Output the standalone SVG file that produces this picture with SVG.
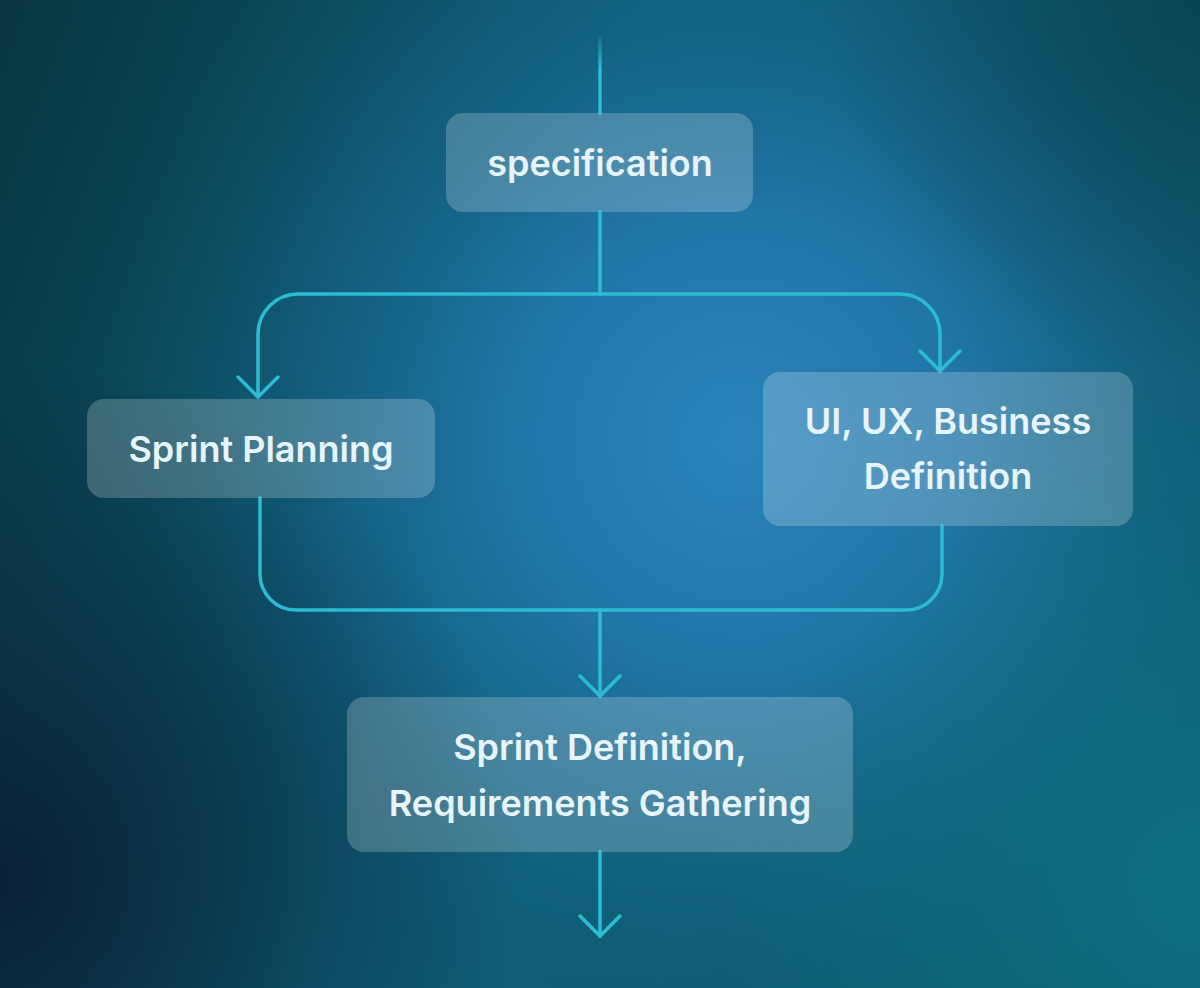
<svg xmlns="http://www.w3.org/2000/svg" width="1200" height="988" viewBox="0 0 1200 988">
<defs>
<linearGradient id="base" x1="0" y1="0" x2="1" y2="0.3">
<stop offset="0" stop-color="#08343f"/>
<stop offset="0.5" stop-color="#0e6078"/>
<stop offset="1" stop-color="#0d5a6a"/>
</linearGradient>
<radialGradient id="glow" cx="740" cy="440" r="660" gradientUnits="userSpaceOnUse">
<stop offset="0" stop-color="#2a84bb"/>
<stop offset="0.35" stop-color="#2378ad" stop-opacity="0.9"/>
<stop offset="0.7" stop-color="#166488" stop-opacity="0.45"/>
<stop offset="1" stop-color="#0d5066" stop-opacity="0"/>
</radialGradient>
<radialGradient id="darkbl" cx="0" cy="880" r="520" gradientUnits="userSpaceOnUse">
<stop offset="0" stop-color="#0a1f35" stop-opacity="0.95"/>
<stop offset="1" stop-color="#0a1f35" stop-opacity="0"/>
</radialGradient>
<radialGradient id="tealbr" cx="1200" cy="880" r="480" gradientUnits="userSpaceOnUse">
<stop offset="0" stop-color="#0f7585" stop-opacity="0.8"/>
<stop offset="1" stop-color="#0f7585" stop-opacity="0"/>
</radialGradient>
<radialGradient id="darktr" cx="1200" cy="0" r="380" gradientUnits="userSpaceOnUse">
<stop offset="0" stop-color="#083a48" stop-opacity="0.7"/>
<stop offset="1" stop-color="#083a48" stop-opacity="0"/>
</radialGradient>
<linearGradient id="topfade" x1="0" y1="38" x2="0" y2="70" gradientUnits="userSpaceOnUse">
<stop offset="0" stop-color="#2bbcd4" stop-opacity="0.2"/>
<stop offset="1" stop-color="#2bbcd4" stop-opacity="1"/>
</linearGradient>
<marker id="chev" viewBox="-24 -24 48 48" markerWidth="48" markerHeight="48" refX="0" refY="0" orient="auto" markerUnits="userSpaceOnUse">
<path d="M-20,-20 L0,0 L-20,20" fill="none" stroke="#2bbcd4" stroke-width="3.5" stroke-linecap="round" stroke-linejoin="round"/>
</marker>
</defs>
<style>
.node rect{fill:#ffffff;fill-opacity:0.21;}
.node text{font-family:Inter,"Noto Sans","Liberation Sans",sans-serif;font-weight:600;font-size:36px;fill:#e8f4fb;text-anchor:middle;dominant-baseline:central;}
.conn path{fill:none;stroke:#2bbcd4;stroke-width:3.5;stroke-linecap:round;}
</style>
<rect width="1200" height="988" fill="url(#base)"/>
<rect width="1200" height="988" fill="url(#glow)"/>
<rect width="1200" height="988" fill="url(#darkbl)"/>
<rect width="1200" height="988" fill="url(#tealbr)"/>
<rect width="1200" height="988" fill="url(#darktr)"/>

<g id="connectors" class="conn">
<path d="M600,38 L600,113" style="stroke:url(#topfade)"/>
<path d="M600,212 L600,294"/>
<path d="M600,294 L298,294 A40,40 0 0 0 258,334 L258,397" marker-end="url(#chev)"/>
<path d="M600,294 L900,294 A40,40 0 0 1 940,334 L940,371" marker-end="url(#chev)"/>
<path d="M260,498 L260,574 A36,36 0 0 0 296,610 L906,610 A36,36 0 0 0 942,574 L942,526"/>
<path d="M600,610 L600,696" marker-end="url(#chev)"/>
<path d="M600,852 L600,936" marker-end="url(#chev)"/>
</g>

<g id="node-specification" class="node">
<rect x="446" y="113" width="307" height="99" rx="17"/>
<text x="600" y="163">specification</text>
</g>
<g id="node-sprint-planning" class="node">
<rect x="87" y="399" width="348" height="99" rx="17"/>
<text x="261" y="449">Sprint Planning</text>
</g>
<g id="node-ui-ux" class="node">
<rect x="763" y="372" width="370" height="154" rx="17"/>
<text x="948" y="421">UI, UX, Business</text>
<text x="948" y="476">Definition</text>
</g>
<g id="node-sprint-definition" class="node">
<rect x="347" y="697" width="506" height="155" rx="17"/>
<text x="600" y="747">Sprint Definition,</text>
<text x="600" y="803">Requirements Gathering</text>
</g>
</svg>
